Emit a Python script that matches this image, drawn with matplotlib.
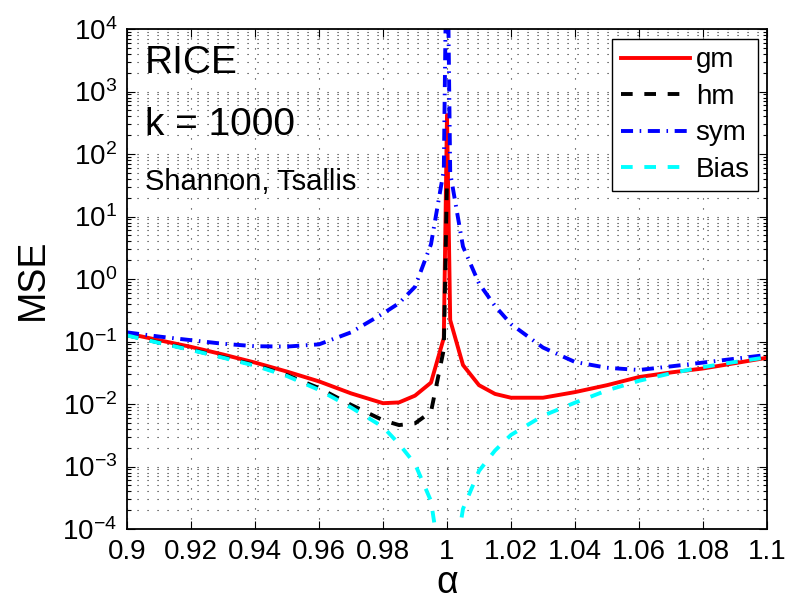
import numpy as np
import matplotlib
matplotlib.use("Agg")
import matplotlib.pyplot as plt
from matplotlib.ticker import FixedLocator, FixedFormatter, NullFormatter

plt.rcParams['font.family'] = ['Liberation Sans', 'DejaVu Sans']
plt.rcParams['mathtext.default'] = 'regular'

alpha = [0.90, 0.91, 0.92, 0.93, 0.94, 0.95, 0.96, 0.97, 0.98, 0.985, 0.99, 0.995, 0.999,
         1.0, 1.001, 1.005, 1.01, 1.015, 1.02, 1.03, 1.04, 1.05, 1.06, 1.07, 1.08, 1.09, 1.10]

gm = [0.135, 0.105, 0.082, 0.062, 0.046, 0.033, 0.023, 0.0148, 0.0103, 0.0106, 0.0136, 0.022, 0.114,
      420, 0.22, 0.042, 0.020, 0.0145, 0.0126, 0.0126, 0.0155, 0.020, 0.027, 0.032, 0.037, 0.045, 0.055]

hm = [0.126, 0.096, 0.074, 0.056, 0.042, 0.029, 0.018, 0.0097, 0.0055, 0.0046, 0.0049, 0.0075, 0.075,
      40, np.nan, np.nan, np.nan, np.nan, np.nan, np.nan, np.nan, np.nan, np.nan, np.nan, np.nan, np.nan, np.nan]

sym = [0.14, 0.12, 0.105, 0.092, 0.084, 0.083, 0.09, 0.14, 0.28, 0.41, 0.75, 3.6, 55,
       1e6, 50, 3.3, 0.85, 0.37, 0.19, 0.08, 0.047, 0.038, 0.035, 0.040, 0.046, 0.053, 0.061]

bias = [0.125, 0.095, 0.073, 0.055, 0.041, 0.028, 0.0168, 0.0088, 0.0043, 0.0023, 0.0011, 0.00028, 1.2e-5,
        np.nan, 1.2e-5, 2.1e-4, 0.00085, 0.0018, 0.0032, 0.0065, 0.0105, 0.0165, 0.0235, 0.031, 0.039, 0.047, 0.056]

series_labels = ['gm', 'hm', 'sym', 'Bias']
xtick_vals = [0.9, 0.92, 0.94, 0.96, 0.98, 1.0, 1.02, 1.04, 1.06, 1.08, 1.1]
xtick_labels = ['0.9', '0.92', '0.94', '0.96', '0.98', '1', '1.02', '1.04', '1.06', '1.08', '1.1']
ytick_exps = [-4, -3, -2, -1, 0, 1, 2, 3, 4]
ytick_labels = ['$10^{%d}$' % e for e in ytick_exps]

fig = plt.figure(figsize=(7.96, 6.04), dpi=100)
ax = fig.add_axes([127/796, (604-529)/604, 640/796, 500/604])

lw = 2.8
ax.plot(alpha, gm, color=(1, 0, 0), lw=lw, linestyle='-', label=series_labels[0], solid_joinstyle='round')
ax.plot(alpha, hm, color='black', lw=lw, linestyle=(0, (3, 3)), label=series_labels[1])
ax.plot(alpha, sym, color=(0, 0, 1), lw=lw, linestyle=(0, (3.1, 1.7, 0.4, 1.7)), label=series_labels[2])
ax.plot(alpha, bias, color=(0, 1, 1), lw=lw, linestyle=(0, (3, 3)), label=series_labels[3])

ax.set_yscale('log')
ax.set_xlim(0.9, 1.1)
ax.set_ylim(1e-4, 1e4)

ax.xaxis.set_major_locator(FixedLocator(xtick_vals))
ax.xaxis.set_major_formatter(FixedFormatter(xtick_labels))
ax.yaxis.set_major_locator(FixedLocator([10.0 ** e for e in ytick_exps]))
ax.yaxis.set_major_formatter(FixedFormatter(ytick_labels))
minor_y = [m * 10.0 ** e for e in ytick_exps[:-1] for m in range(2, 10)]
ax.yaxis.set_minor_locator(FixedLocator(minor_y))
ax.yaxis.set_minor_formatter(NullFormatter())

ax.tick_params(axis='both', which='both', direction='in', top=True, right=True, width=0.8)
ax.tick_params(axis='both', which='major', length=6, labelsize=20)
ax.tick_params(axis='y', which='minor', length=3)
ax.tick_params(axis='x', which='major', pad=7)
ax.tick_params(axis='y', which='major', pad=7)

ax.grid(True, which='major', axis='x', linestyle=(0, (1, 8)), color='0.15', lw=0.8)
ax.grid(True, which='both', axis='y', linestyle=(0, (1, 8)), color='0.15', lw=0.8)

for s in ax.spines.values():
    s.set_linewidth(1.3)

ax.set_xlabel('α', fontsize=27, labelpad=0)
ax.set_ylabel('MSE', fontsize=27, labelpad=8)

ax.text(0.028, 0.912, 'RICE', transform=ax.transAxes, fontsize=28, va='baseline', ha='left')
ax.text(0.028, 0.788, 'k = 1000', transform=ax.transAxes, fontsize=28, va='baseline', ha='left')
ax.text(0.028, 0.678, 'Shannon, Tsallis', transform=ax.transAxes, fontsize=21, va='baseline', ha='left')

leg = ax.legend(loc='upper right', bbox_to_anchor=((758-127)/640, (529-39)/500), fontsize=20,
                handlelength=2.5, handletextpad=0.2, labelspacing=0.38, borderpad=0.3,
                borderaxespad=0, fancybox=False, framealpha=1, edgecolor='black')
leg.get_frame().set_linewidth(1.0)

fig.savefig('out.png', dpi=100)
